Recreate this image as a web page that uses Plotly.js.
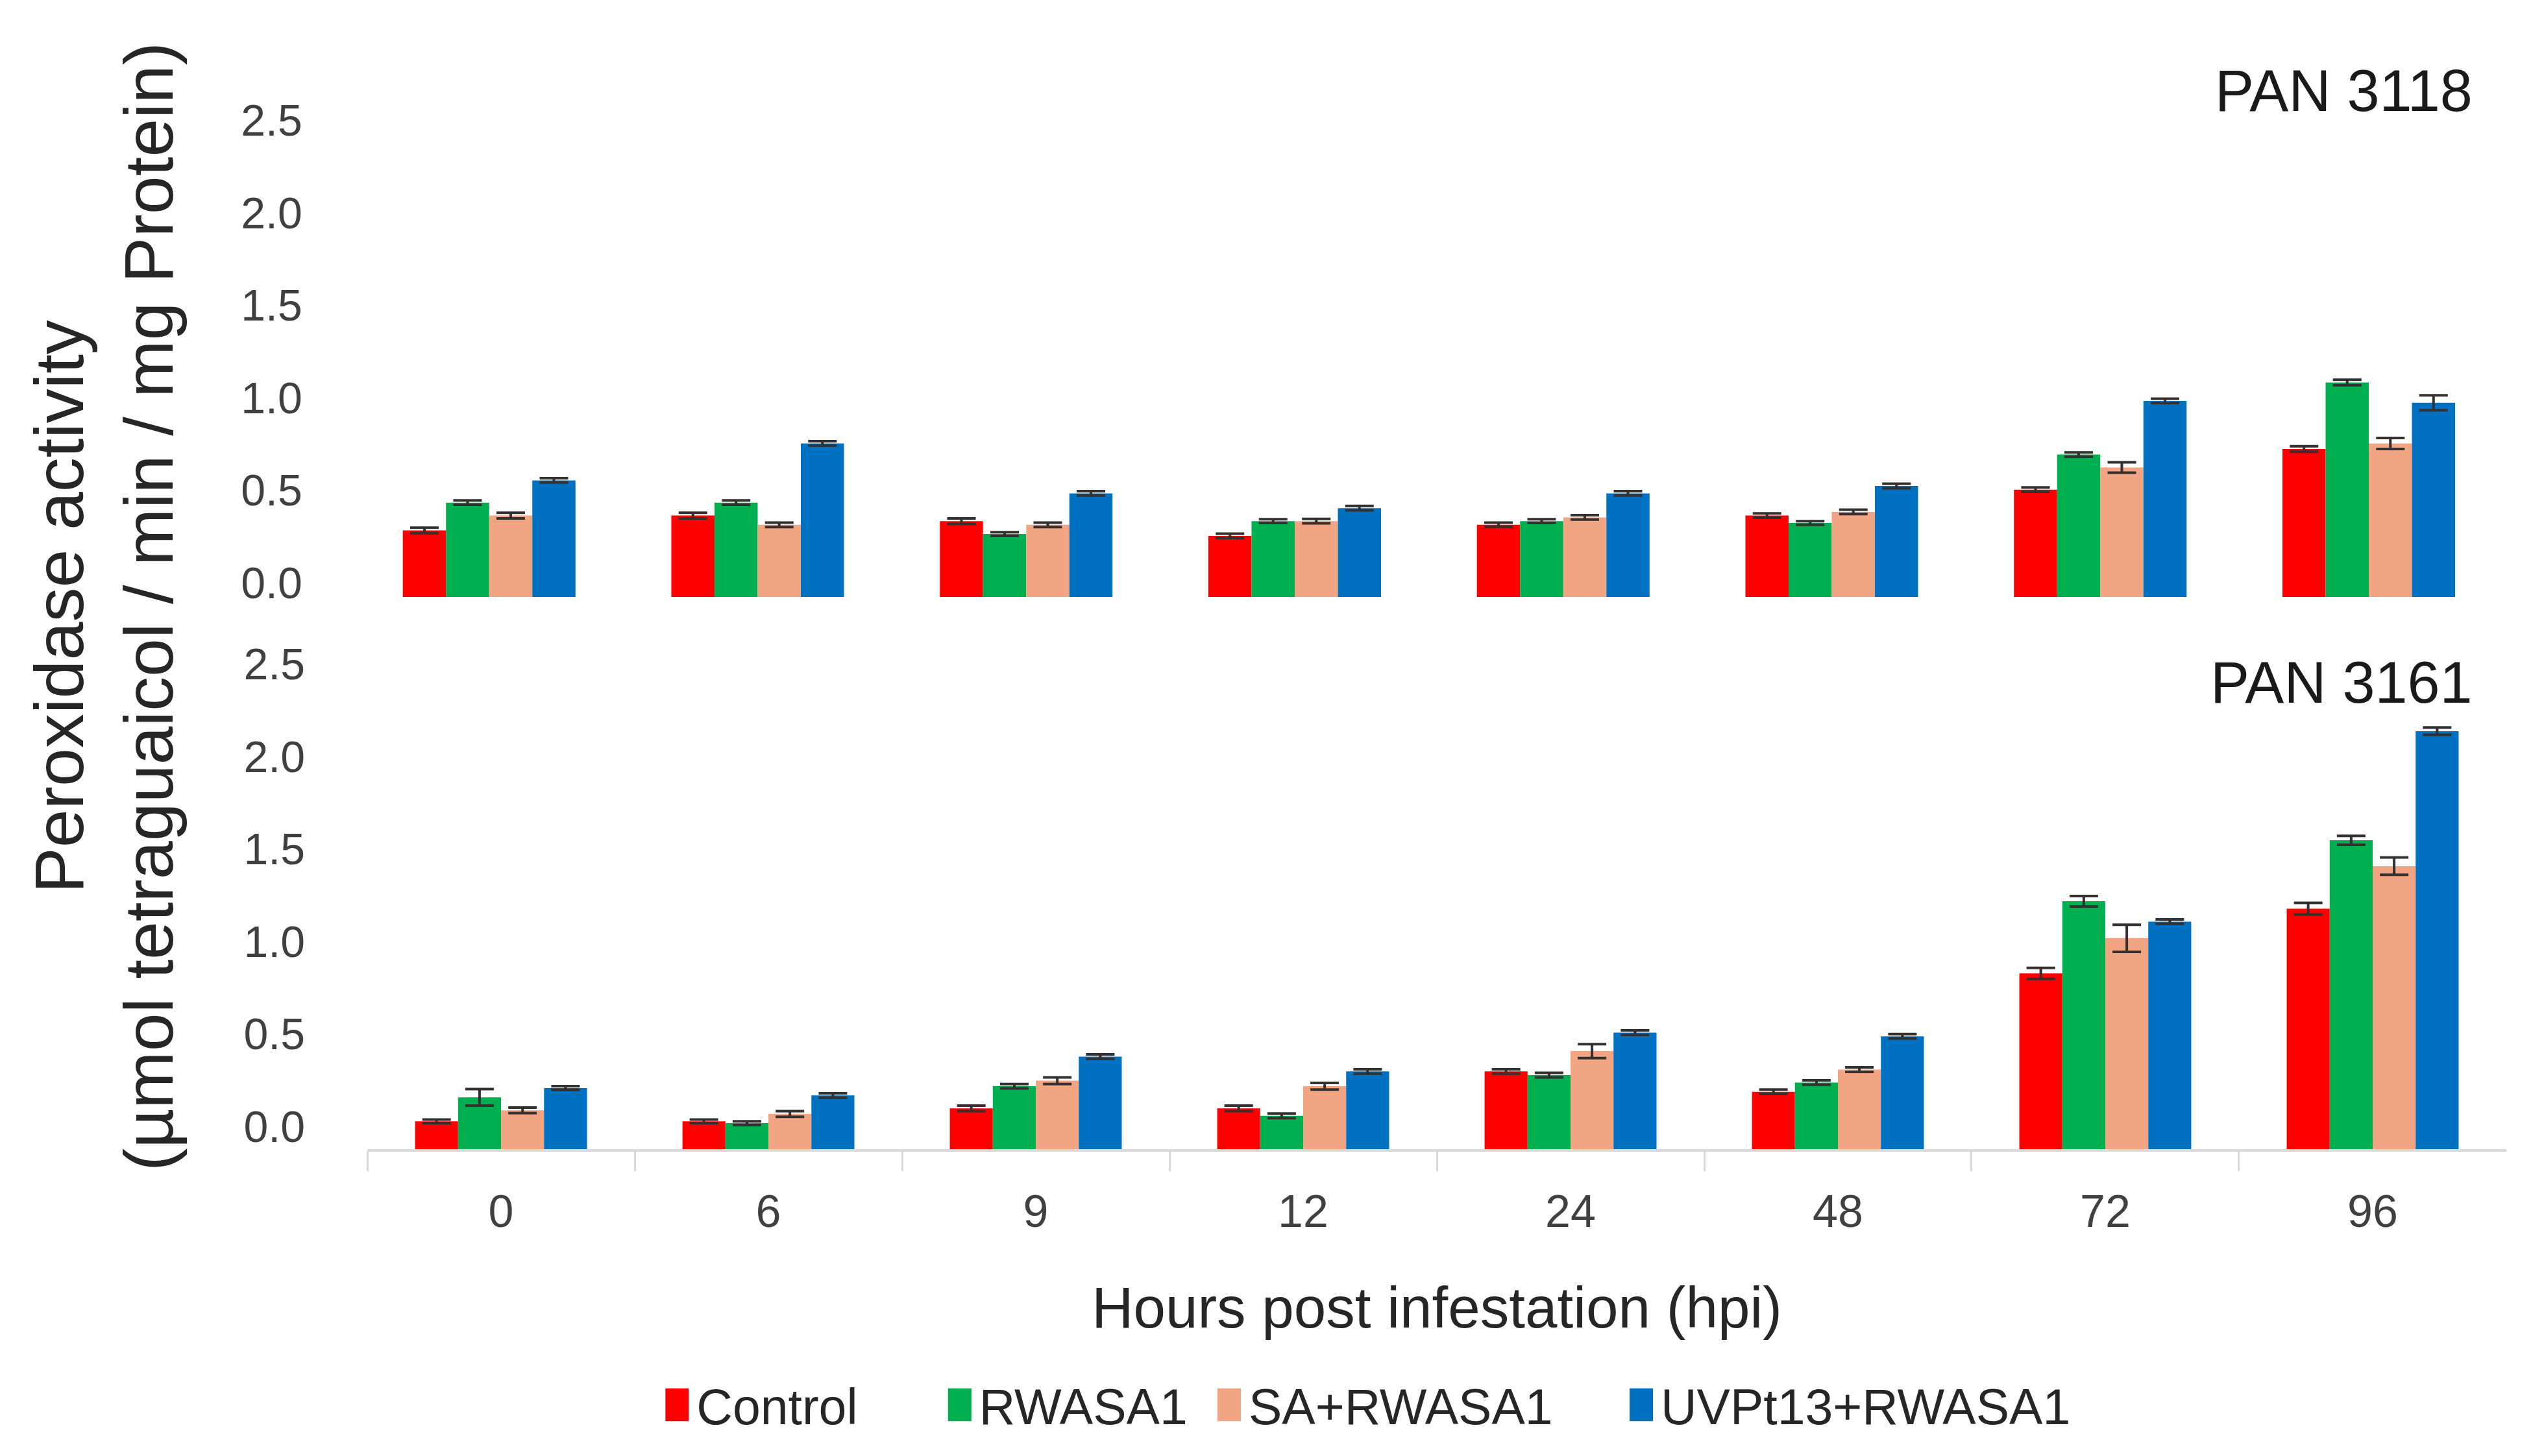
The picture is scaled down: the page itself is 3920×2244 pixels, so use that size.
<!DOCTYPE html>
<html><head><meta charset="utf-8">
<script src="https://cdn.plot.ly/plotly-3.0.1.min.js"></script>
<style>html,body{margin:0;padding:0;background:#fff}#chart{width:3920px;height:2244px}</style>
</head><body><div id="chart"></div>
<script>
// ---- data ----
const hours = ['0', '6', '9', '12', '24', '48', '72', '96'];
const seriesNames = ['Control', 'RWASA1', 'SA+RWASA1', 'UVPt13+RWASA1'];

// PAN 3118 (upper panel)
const pan3118Control = [0.36, 0.44, 0.41, 0.33, 0.39, 0.44, 0.58, 0.80];
const pan3118RWASA1  = [0.51, 0.51, 0.34, 0.41, 0.41, 0.40, 0.77, 1.16];
const pan3118SA      = [0.44, 0.39, 0.39, 0.41, 0.43, 0.46, 0.70, 0.83];
const pan3118UVPt13  = [0.63, 0.83, 0.56, 0.48, 0.56, 0.60, 1.06, 1.05];
const pan3118ControlErr = [0.015, 0.015, 0.015, 0.012, 0.012, 0.012, 0.012, 0.015];
const pan3118RWASA1Err  = [0.012, 0.012, 0.010, 0.010, 0.010, 0.010, 0.012, 0.015];
const pan3118SAErr      = [0.015, 0.012, 0.012, 0.012, 0.012, 0.012, 0.028, 0.030];
const pan3118UVPt13Err  = [0.012, 0.012, 0.012, 0.012, 0.012, 0.012, 0.012, 0.040];

// PAN 3161 (lower panel)
const pan3161Control = [0.15, 0.15, 0.22, 0.22, 0.42, 0.31, 0.95, 1.30];
const pan3161RWASA1  = [0.28, 0.14, 0.34, 0.18, 0.40, 0.36, 1.34, 1.67];
const pan3161SA      = [0.21, 0.19, 0.37, 0.34, 0.53, 0.43, 1.14, 1.53];
const pan3161UVPt13  = [0.33, 0.29, 0.50, 0.42, 0.63, 0.61, 1.23, 2.26];
const pan3161ControlErr = [0.010, 0.010, 0.015, 0.015, 0.012, 0.012, 0.030, 0.032];
const pan3161RWASA1Err  = [0.045, 0.010, 0.012, 0.012, 0.012, 0.012, 0.028, 0.024];
const pan3161SAErr      = [0.015, 0.015, 0.018, 0.018, 0.038, 0.012, 0.073, 0.047];
const pan3161UVPt13Err  = [0.010, 0.012, 0.012, 0.012, 0.012, 0.012, 0.012, 0.020];

const panelLabels = ['PAN 3118', 'PAN 3161'];
const xTitle = 'Hours post infestation (hpi)';
const yTitle = 'Peroxidase activity<br>(µmol tetraguaicol / min / mg Protein)';

// ---- styling ----
const colors = ['#FF0000', '#00B050', '#F2A582', '#0070C0'];
const FONT = 'Liberation Sans, Arial, sans-serif';
const legendIds = ['legend', 'legend2', 'legend3', 'legend4'];
const legendX = [0.2585, 0.3696, 0.4755, 0.6375];

const upperSeries = [pan3118Control, pan3118RWASA1, pan3118SA, pan3118UVPt13];
const upperErr = [pan3118ControlErr, pan3118RWASA1Err, pan3118SAErr, pan3118UVPt13Err];
const lowerSeries = [pan3161Control, pan3161RWASA1, pan3161SA, pan3161UVPt13];
const lowerErr = [pan3161ControlErr, pan3161RWASA1Err, pan3161SAErr, pan3161UVPt13Err];

const errStyle = {type: 'data', visible: true, color: '#353030', thickness: 4, width: 22};

const traces = [];
seriesNames.forEach((name, i) => {
  traces.push({
    type: 'bar', name: name, x: hours, y: upperSeries[i], xaxis: 'x2', yaxis: 'y2',
    legendgroup: name, showlegend: true, legend: legendIds[i],
    marker: {color: colors[i], line: {width: 0}},
    error_y: Object.assign({array: upperErr[i]}, errStyle)
  });
});
seriesNames.forEach((name, i) => {
  traces.push({
    type: 'bar', name: name, x: hours, y: lowerSeries[i], xaxis: 'x', yaxis: 'y',
    legendgroup: name, showlegend: false, legend: legendIds[i],
    marker: {color: colors[i], line: {width: 0}},
    error_y: Object.assign({array: lowerErr[i]}, errStyle)
  });
});

const yCommon = {
  range: [0, 2.75], dtick: 0.5, tick0: 0, tickformat: '.1f',
  showgrid: false, zeroline: false, showline: false, ticks: '',
  tickfont: {size: 68, color: '#404040', family: FONT}
};

const layout = {
  width: 3920, height: 2244,
  margin: {l: 0, r: 0, t: 0, b: 0},
  paper_bgcolor: '#ffffff', plot_bgcolor: '#ffffff',
  font: {family: FONT, color: '#262626'},
  barmode: 'group', bargap: 0.357, bargroupgap: 0,
  showlegend: true,
  xaxis: {
    domain: [0.1444, 0.9852], anchor: 'y', type: 'category',
    showline: true, linecolor: '#d9d9d9', linewidth: 4,
    ticks: 'outside', tickson: 'boundaries', ticklen: 30, tickwidth: 3, tickcolor: '#d9d9d9',
    tickfont: {size: 70, color: '#404040', family: FONT}, ticklabelstandoff: 32,
    showgrid: false, zeroline: false,
    title: {text: xTitle, font: {size: 89, color: '#262626', family: FONT}, standoff: 80}
  },
  yaxis: Object.assign({}, yCommon, {domain: [0.21078, 0.56006], anchor: 'x', ticklabelshift: -35, ticklabelstandoff: 95}),
  xaxis2: {
    domain: [0.1395, 0.9839], anchor: 'y2', type: 'category',
    showline: false, ticks: '', showticklabels: false, showgrid: false, zeroline: false
  },
  yaxis2: Object.assign({}, yCommon, {domain: [0.59002, 0.93928], anchor: 'x2', ticklabelshift: -22, ticklabelstandoff: 80}),
  annotations: [
    {text: panelLabels[0], xref: 'paper', yref: 'paper', x: 0.9724, y: 0.9376, xanchor: 'right', yanchor: 'middle',
     showarrow: false, font: {size: 90, color: '#1a1a1a', family: FONT}},
    {text: panelLabels[1], xref: 'paper', yref: 'paper', x: 0.9724, y: 0.5312, xanchor: 'right', yanchor: 'middle',
     showarrow: false, font: {size: 90, color: '#1a1a1a', family: FONT}},
    {text: yTitle, xref: 'paper', yref: 'paper', x: 0.0408, y: 0.5833, xanchor: 'center', yanchor: 'middle',
     textangle: -90, showarrow: false, font: {size: 106, color: '#262626', family: FONT}}
  ]
};
legendIds.forEach((id, i) => {
  layout[id] = {
    orientation: 'h', x: legendX[i], xanchor: 'left', y: 0.035, yanchor: 'middle',
    bgcolor: 'rgba(0,0,0,0)', borderwidth: 0,
    font: {size: 77, color: '#262626', family: FONT}, itemwidth: 50
  };
});

Plotly.newPlot('chart', traces, layout, {staticPlot: true, displayModeBar: false}).then(gd => {
  gd.querySelectorAll('.legendpoints path').forEach(p => {
    const t = p.getAttribute('transform') || '';
    p.setAttribute('transform', t + ' scale(3.0,4.2)');
  });
});
</script>
</body></html>
